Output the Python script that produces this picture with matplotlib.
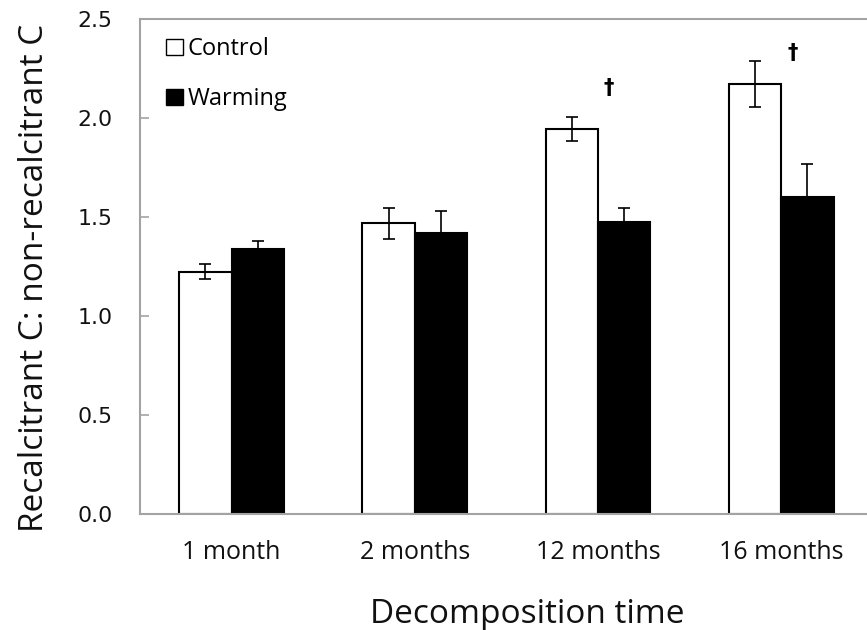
import matplotlib.pyplot as plt
import numpy as np

# values
periods = ['1 month', '2 months', '12 months', '16 months']
control = [1.222, 1.465, 1.944, 2.168]
control_err = [0.040, 0.077, 0.061, 0.117]
warming = [1.336, 1.417, 1.472, 1.597]
warming_err = [0.042, 0.112, 0.070, 0.170]
dagger_pos = [2, 3]   # groups marked with a dagger
dagger_y = [2.15, 2.326]

plt.rcParams['font.family'] = ['Open Sans', 'DejaVu Sans']

fig = plt.figure(figsize=(8.67, 6.3), dpi=100)
ax = fig.add_axes([0.1615, 0.1849, 0.8452, 0.7857])

x = np.arange(len(periods))
w = 0.286
ebar = dict(ecolor='black', elinewidth=1.2, capsize=4.3, capthick=1.2)

ax.bar(x - w / 2, control, w, color='white', edgecolor='black', linewidth=1.5,
       yerr=control_err, error_kw=ebar, label='Control', zorder=2)
ax.bar(x + w / 2, warming, w, color='black', edgecolor='black', linewidth=1.5,
       yerr=[[0] * len(warming), warming_err], error_kw=ebar, label='Warming', zorder=2)

for i, yy in zip(dagger_pos, dagger_y):
    ax.text(x[i] + 0.06, yy, '\u2020', ha='center', va='center',
            fontsize=15, fontweight='bold', color='black', family='DejaVu Sans')

ax.set_xlim(-0.5, 3.5)
ax.set_ylim(0, 2.5)
ax.set_yticks([0, 0.5, 1.0, 1.5, 2.0, 2.5])
ax.set_yticklabels(['0.0', '0.5', '1.0', '1.5', '2.0', '2.5'], family='DejaVu Sans')
ax.set_xticks(x)
ax.set_xticklabels(periods)

for s in ax.spines.values():
    s.set_color('#a3a3a3')
    s.set_linewidth(1.5)

ax.tick_params(axis='y', direction='in', length=6.5, width=1.2, color='#a3a3a3',
               labelsize=15.8, labelcolor='#111111', pad=19.7)
ax.tick_params(axis='x', length=0, labelsize=18, labelcolor='#111111', pad=19)

fig.text(43 / 867, 1 - 278 / 630, 'Recalcitrant C: non-recalcitrant C', rotation=90,
         rotation_mode='anchor', ha='center', va='baseline', fontsize=24, color='#111111')
fig.text(527 / 867, 1 - 623 / 630, 'Decomposition time', ha='center', va='baseline',
         fontsize=24, color='#111111')

leg = ax.legend(loc='upper left', frameon=False, fontsize=17, handlelength=0.7,
                handleheight=0.7, handletextpad=0.2, labelspacing=1.1,
                borderpad=0, borderaxespad=0.0, bbox_to_anchor=(0.0355, 0.962))
for h in leg.legend_handles:
    h.set_linewidth(1.0)

fig.savefig('out.png', dpi=100)
